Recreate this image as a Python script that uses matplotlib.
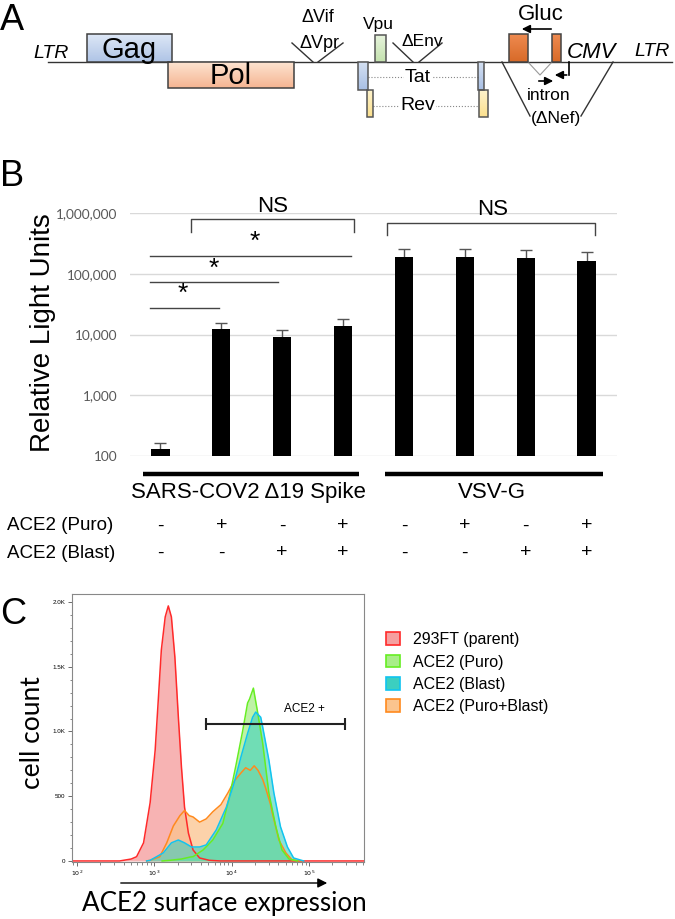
import matplotlib.pyplot as plt
import numpy as np
from matplotlib.patches import Rectangle, Patch
from matplotlib.colors import LinearSegmentedColormap
from matplotlib.ticker import MultipleLocator, LogLocator, NullLocator, NullFormatter

plt.rcParams['font.family'] = ['Liberation Sans', 'DejaVu Sans']

# ---- panel B data (relative light units)
rlu = np.array([128, 12200, 9000, 13600, 190000, 186000, 179000, 161000])
rlu_err_top = np.array([162, 15700, 11700, 17800, 251000, 251000, 245000, 230000])
puro = ['-', '+', '-', '+', '-', '+', '-', '+']
blast = ['-', '-', '+', '+', '-', '-', '+', '+']
groups = ['SARS-COV2 \u039419 Spike', 'VSV-G']
rlu_ticks = [100, 1000, 10000, 100000, 1000000]

# ---- panel C data (log10 of ACE2 signal, cell count)
red_logx = [1.94, 2.55, 2.60, 2.70, 2.77, 2.86, 2.945, 3.01, 3.05, 3.09, 3.14, 3.18,
            3.22, 3.265, 3.31, 3.35, 3.39, 3.44, 3.50, 3.585, 3.71, 3.85, 5.71]
red_cnt = [0, 0, 5, 15, 33, 140, 450, 855, 1240, 1630, 1885, 1970,
           1885, 1575, 1110, 725, 415, 215, 85, 23, 5, 0, 0]
org_logx = [2.90, 2.945, 3.07, 3.16, 3.245, 3.33, 3.39, 3.45, 3.50, 3.585, 3.67, 3.755,
            3.86, 3.95, 4.03, 4.12, 4.18, 4.24, 4.29, 4.34, 4.40, 4.44, 4.50, 4.525,
            4.61, 4.70, 4.78, 4.91]
org_cnt = [0, 5, 33, 140, 270, 350, 390, 350, 340, 300, 325, 380,
           435, 525, 615, 680, 720, 700, 735, 700, 630, 560, 440, 370,
           162, 62, 8, 0]
grn_logx = [3.10, 3.20, 3.35, 3.46, 3.50, 3.63, 3.755, 3.885, 3.97, 4.055, 4.14, 4.205,
            4.23, 4.28, 4.33, 4.40, 4.48, 4.57, 4.65, 4.74, 4.85]
grn_cnt = [0, 5, 15, 30, 33, 85, 162, 290, 495, 740, 1000, 1220,
           1250, 1335, 1165, 910, 525, 265, 85, 15, 0]
blu_logx = [2.90, 2.945, 3.115, 3.22, 3.31, 3.39, 3.48, 3.585, 3.67, 3.80, 3.93, 4.03,
            4.12, 4.205, 4.27, 4.31, 4.375, 4.40, 4.48, 4.545, 4.63, 4.72, 4.80, 4.93]
blu_cnt = [0, 5, 62, 140, 162, 140, 108, 108, 124, 240, 415, 600,
           805, 985, 1110, 1150, 1110, 1035, 780, 525, 265, 108, 23, 0]
hist_names = ['293FT (parent)', 'ACE2 (Puro)', 'ACE2 (Blast)', 'ACE2 (Puro+Blast)']

fig = plt.figure(figsize=(6.75, 9.19), dpi=100)

# overlay in pixel coords for the schematic and loose labels
ov = fig.add_axes([0, 0, 1, 1])
ov.axis('off')


def gbox(x0, x1, y0, y1, ctop, cbot, ec='#404040'):
    cm = LinearSegmentedColormap.from_list('g', [ctop, cbot])
    ov.imshow(np.linspace(0, 1, 50).reshape(-1, 1), cmap=cm, aspect='auto',
              extent=(x0, x1, y1, y0), zorder=2)
    ov.add_patch(Rectangle((x0, y0), x1 - x0, y1 - y0, fill=False, ec=ec, lw=1.1, zorder=3))


# ---- panel A schematic
ov.text(0, 20, 'A', fontsize=26, ha='left', va='center')
ov.plot([48, 672], [62, 62], color='#333333', lw=1, zorder=1)
ov.text(51, 54, 'LTR', style='italic', fontsize=14, ha='center', va='center')
gbox(87, 172, 34, 62, '#dde7f6', '#afc4e6')
ov.text(129, 50, 'Gag', fontsize=21, ha='center', va='center', zorder=4)
gbox(168, 294, 62, 88, '#fde3d0', '#f5b592')
ov.text(231, 76, 'Pol', fontsize=21, ha='center', va='center', zorder=4)
ov.text(318, 18, '\u0394Vif', fontsize=13, ha='center', va='center')
ov.text(320, 43, '\u0394Vpr', fontsize=13, ha='center', va='center')
ov.plot([292, 313], [43, 62], color='#333333', lw=1)
ov.plot([318, 343], [62, 43], color='#333333', lw=1)
ov.text(378, 24, 'Vpu', fontsize=12.5, ha='center', va='center')
gbox(375, 386, 35, 62, '#e6f3dc', '#c4e2ae', ec='#555555')
ov.text(422, 42, '\u0394Env', fontsize=12.5, ha='center', va='center')
ov.plot([393, 413], [43, 62], color='#333333', lw=1)
ov.plot([419, 442], [62, 43], color='#333333', lw=1)
gbox(358, 368, 62, 90, '#d4e0f2', '#a8bfe4', ec='#555555')
gbox(367, 373, 90, 117, '#fef3cc', '#fbe08e', ec='#555555')
gbox(478, 484, 62, 90, '#d4e0f2', '#a8bfe4', ec='#555555')
gbox(479, 488, 90, 117, '#fef3cc', '#fbe08e', ec='#555555')
ov.plot([368, 478], [77, 77], color='#888888', lw=0.8, ls=':')
ov.plot([373, 479], [106, 106], color='#888888', lw=0.8, ls=':')
ov.text(418, 77, 'Tat', fontsize=14, ha='center', va='center',
        bbox=dict(fc='white', ec='none', pad=0.5))
ov.text(418, 106, 'Rev', fontsize=14, ha='center', va='center',
        bbox=dict(fc='white', ec='none', pad=0.5))
gbox(509, 528, 34, 62, '#ee8a50', '#d86a28', ec='#444444')
gbox(552, 561, 34, 62, '#ee8a50', '#d86a28', ec='#444444')
ov.text(541, 15, 'Gluc', fontsize=16, ha='center', va='center')
ov.annotate('', xy=(519, 29), xytext=(554, 29),
            arrowprops=dict(arrowstyle='-|>', color='black', lw=1.2, mutation_scale=12))
ov.text(592, 52, 'CMV', style='italic', fontsize=16, ha='center', va='center')
ov.text(652, 52, 'LTR', style='italic', fontsize=14, ha='center', va='center')
ov.plot([502, 530], [62, 116], color='#333333', lw=1)
ov.plot([613, 581], [62, 116], color='#333333', lw=1)
ov.plot([528, 540, 552], [62, 75, 62], color='#999999', lw=0.8)
ov.annotate('', xy=(556, 81), xytext=(536, 81),
            arrowprops=dict(arrowstyle='-|>', color='black', lw=1.2, mutation_scale=12))
ov.plot([569, 569], [62, 75], color='black', lw=1.2)
ov.annotate('', xy=(552, 75), xytext=(569.5, 75),
            arrowprops=dict(arrowstyle='-|>', color='black', lw=1.2, mutation_scale=12))
ov.text(549, 95, 'intron', fontsize=12.5, ha='center', va='center')
ov.text(556, 119, '(\u0394Nef)', fontsize=12.5, ha='center', va='center')

# ---- panel B
ov.text(0, 176, 'B', fontsize=26, ha='left', va='center')
ov.text(43, 333, 'Relative Light Units', rotation=90, fontsize=20, ha='center', va='center')
ov.text(7, 526, 'ACE2 (Puro)', fontsize=13.5, ha='left', va='center')
ov.text(7, 553, 'ACE2 (Blast)', fontsize=13.5, ha='left', va='center')

ax = fig.add_axes([130 / 675, 1 - 456 / 919, 487 / 675, 243 / 919])
x = np.arange(len(rlu))
ax.bar(x, rlu, width=0.3, color='black', zorder=3)
eb = ax.errorbar(x, rlu, yerr=[np.zeros(len(rlu)), rlu_err_top - rlu], fmt='none',
                 ecolor='#555555', elinewidth=1, capsize=4, capthick=1, zorder=2)
eb[1][0].set_visible(False)
ax.set_yscale('log')
ax.set_ylim(100, 1e6)
ax.set_xlim(-0.5, 7.5)
ax.set_xticks([])
ax.yaxis.set_minor_locator(NullLocator())
ax.set_yticks(rlu_ticks, [f'{t:,}' for t in rlu_ticks])
for lab in ax.get_yticklabels():
    lab.set_family(['Lato', 'DejaVu Sans'])
ax.tick_params(axis='y', length=0, pad=9, labelsize=9.8, labelcolor='#595959')
ax.yaxis.grid(True, color='#d9d9d9', lw=1)
ax.set_axisbelow(True)
for s in ax.spines.values():
    s.set_visible(False)

# significance marks
bk = dict(color='#444444', lw=1, clip_on=False)
ax.plot([0.5, 0.5, 3.18, 3.18], [10**5.69, 10**5.9, 10**5.9, 10**5.69], **bk)
ax.text(1.84, 10**6.1, 'NS', fontsize=16, ha='center', va='center')
ax.plot([3.72, 3.72, 7.14, 7.14], [10**5.64, 10**5.835, 10**5.835, 10**5.64], **bk)
ax.text(5.46, 10**6.05, 'NS', fontsize=16, ha='center', va='center')
for x1, ly, sx in [(3.13, 5.29, 1.55), (1.93, 4.86, 0.88), (0.96, 4.44, 0.37)]:
    ax.plot([-0.17, x1], [10**ly, 10**ly], **bk)
    ax.text(sx, 10**(ly + 0.03), '*', fontsize=19, ha='center', va='bottom')

tr = ax.get_xaxis_transform()
ax.plot([-0.29, 3.26], [-0.074, -0.074], color='black', lw=3.2, transform=tr, clip_on=False,
        solid_capstyle='butt')
ax.plot([3.69, 7.27], [-0.074, -0.074], color='black', lw=3.2, transform=tr, clip_on=False,
        solid_capstyle='butt')
ax.text(1.45, -0.152, groups[0], fontsize=16, ha='center', va='center', transform=tr)
ax.text(5.45, -0.152, groups[1], fontsize=16, ha='center', va='center', transform=tr)
for i in range(len(rlu)):
    ax.text(i, -0.288, puro[i], fontsize=14, ha='center', va='center', transform=tr)
    ax.text(i, -0.399, blast[i], fontsize=14, ha='center', va='center', transform=tr)

# ---- panel C
ov.text(0, 614, 'C', fontsize=26, ha='left', va='center')
axc = fig.add_axes([72 / 675, 1 - 862 / 919, 292 / 675, 268 / 919])
series = [(red_logx, red_cnt, '#ff2a2a', '#f5a0a0', 0.8),
          (org_logx, org_cnt, '#ff8a1e', '#fbc48e', 0.75),
          (grn_logx, grn_cnt, '#66ee22', '#a8ee88', 0.75),
          (blu_logx, blu_cnt, '#10c4f0', '#3ccfc0', 0.6)]
for lx, cnt, lc, fc, a in series:
    xv = 10 ** np.array(lx)
    axc.fill_between(xv, 0, cnt, color=fc, alpha=a, lw=0)
    axc.plot(xv, cnt, color=lc, lw=1.1)
axc.set_xscale('log')
axc.set_xlim(10**1.935, 10**5.71)
axc.set_ylim(-8, 2062)
axc.set_yticks([0, 500, 1000, 1500, 2000], ['0', '500', '1.0K', '1.5K', '2.0K'])
axc.yaxis.set_minor_locator(MultipleLocator(100))
axc.set_xticks([1e2, 1e3, 1e4, 1e5], ['$10^{2}$', '$10^{3}$', '$10^{4}$', '$10^{5}$'])
axc.xaxis.set_minor_locator(LogLocator(subs=np.arange(2, 10)))
axc.xaxis.set_minor_formatter(NullFormatter())
axc.tick_params(labelsize=4.5, length=3, width=0.6, color='#555555', pad=2)
axc.tick_params(which='minor', length=1.8, width=0.5, color='#555555')
for s in axc.spines.values():
    s.set_color('#888888')
    s.set_linewidth(0.8)
axc.plot([10**3.667, 10**5.46], [1058, 1058], color='#222222', lw=1.5, marker='|',
         markersize=9, markeredgewidth=1.5)
axc.text(10**4.94, 1173, 'ACE2 +', fontsize=8.5, ha='center', va='center')

# legend order: parent, Puro, Blast, Puro+Blast
legend_order = [0, 2, 3, 1]
handles = [Patch(facecolor=series[k][3], edgecolor=series[k][2], lw=1.2) for k in legend_order]
fig.legend(handles, hist_names, loc='upper left', bbox_to_anchor=(372 / 675, 1 - 618 / 919),
           frameon=False, fontsize=11.5, handlelength=0.85, handleheight=0.85,
           handletextpad=0.8, labelspacing=0.45)

ov.text(33, 733, 'cell count', rotation=90, fontsize=19, ha='center', va='center',
        family=['Lato', 'DejaVu Sans'])
ov.annotate('', xy=(330, 883), xytext=(118, 883),
            arrowprops=dict(arrowstyle='-|>', color='black', lw=1, mutation_scale=14))
ov.text(224, 903, 'ACE2 surface expression', fontsize=18.7, ha='center', va='center',
        family=['Lato', 'DejaVu Sans'])

ov.set_xlim(0, 675)
ov.set_ylim(919, 0)

fig.savefig('out.png', dpi=100)
